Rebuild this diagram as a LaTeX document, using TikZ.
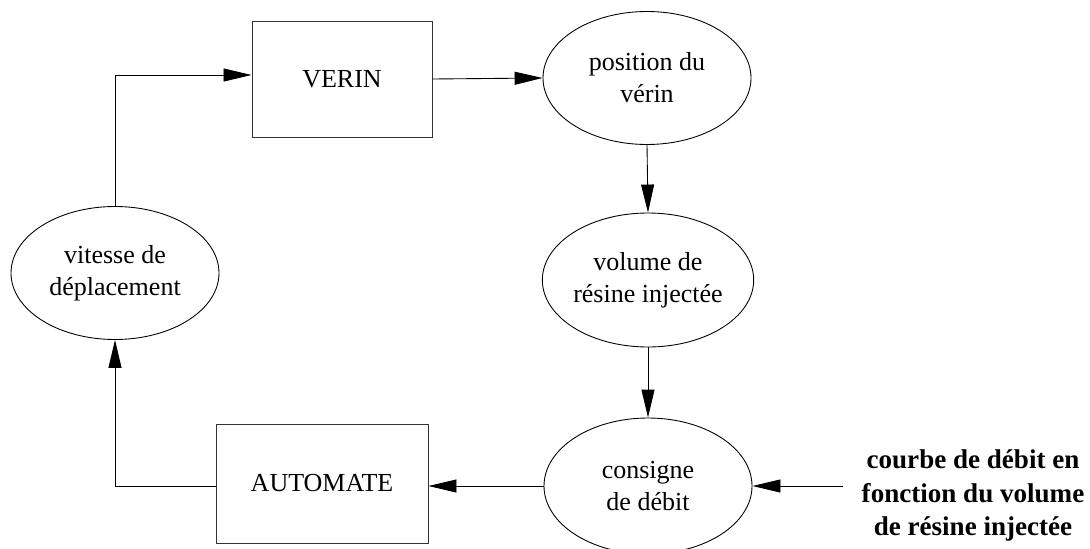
\documentclass[tikz,border=0pt]{standalone}
\usepackage{fontspec}
\setmainfont{Liberation Serif}
\usetikzlibrary{shapes.geometric,arrows.meta}
\tikzset{
  boite/.style={draw=black!80, line width=0.55pt, minimum width=3.6cm, minimum height=2.32cm, inner sep=0pt, font=\fontsize{14.8}{18.2}\selectfont},
  bulle/.style={draw, ellipse, line width=0.5pt, minimum width=4.16cm, minimum height=2.66cm, inner sep=0pt, align=center, font=\fontsize{14.8}{18.2}\selectfont},
  fleche/.style={line width=0.5pt, -{Triangle[length=0.56cm, width=0.26cm]}}
}
\begin{document}
\begin{tikzpicture}
			\useasboundingbox (0,0) rectangle (21.8,10.96);
			%Boites
			\node[boite] (verin) at (6.84,9.38) {VERIN};
			\node[boite, minimum width=4.24cm, minimum height=2.38cm] (automate) at (6.44,1.29) {AUTOMATE};
			%Bulles
			\node[bulle] (position) at (12.94,9.40) {position du\\vérin};
			\node[bulle, minimum height=2.68cm] (volume) at (12.96,5.36) {volume de\\résine injectée};
			\node[bulle, minimum height=2.72cm] (consigne) at (12.96,1.24) {consigne\\de débit};
			\node[bulle] (vitesse) at (2.30,5.50) {vitesse de\\déplacement};
			%Entree
			\node[align=center, inner xsep=0.36cm, font=\fontsize{15.4}{18.8}\selectfont\bfseries] (courbe) at (19.46,1.05) {courbe de débit en\\fonction du volume\\de résine injectée};
			%Fleches
			\draw[fleche] (verin.east) -- (position.west);
			\draw[fleche] (position.south) -- (volume.north);
			\draw[fleche] (volume.south) -- (consigne.north);
			\draw[fleche] (consigne.west) -- (automate.east |- consigne.west);
			\draw[fleche] (automate.west |- consigne.west) -| (vitesse.south);
			\draw[fleche] (vitesse.north) |- ([yshift=0.08cm]verin.west);
			\draw[fleche] (courbe.west |- consigne.east) -- (consigne.east);
		\end{tikzpicture}
\end{document}
